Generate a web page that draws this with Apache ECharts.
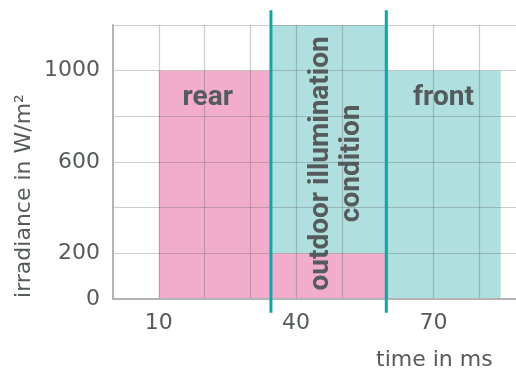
<!DOCTYPE html>
<html>
<head>
<meta charset="utf-8">
<script src="https://cdn.jsdelivr.net/npm/echarts@6/dist/echarts.min.js"></script>
<style>html,body{margin:0;padding:0;background:#fff}#c{width:516px;height:376px}</style>
</head>
<body>
<div id="c"></div>
<script>
// Regions (time in ms, irradiance in W/m²)
var regionKind = ['rear', 'rear', 'outdoor', 'front'];
var regionX0 = [10, 34.5, 34.5, 59.7];
var regionX1 = [34.5, 59.7, 59.7, 84.7];
var regionY0 = [0, 0, 200, 0];
var regionY1 = [1000, 200, 1200, 1000];
// Boundary lines
var boundaryX = [34.5, 59.7];
var boundaryY0 = [-60, -60];
var boundaryY1 = [1265, 1265];
// Region labels
var labelText = ['rear', 'front', 'outdoor illumination\ncondition'];
var labelX = [20.7, 72.2, 48.8];
var labelY = [880, 880, 594];
var labelVertical = [false, false, true];
// Ticks
var xTickLabels = [10, 40, 70];
var yTickLabels = [0, 200, 600, 1000];

var colors = { rear: '#F2ADCD', outdoor: '#B0DFDF', front: '#B0DFDF' };
var textColor = '#555a5c';
var font = '"DejaVu Sans", Roboto, sans-serif';
var boldFont = 'Roboto, "Liberation Sans", sans-serif';

var rectData = regionKind.map(function (k, i) { return [regionX0[i], regionX1[i], regionY0[i], regionY1[i], i]; });
var lineData = boundaryX.map(function (x, i) { return [x, boundaryY0[i], boundaryY1[i]]; });
var textData = labelText.map(function (t, i) { return [labelX[i], labelY[i], i]; });

var chart = echarts.init(document.getElementById('c'), null, { renderer: 'canvas' });
chart.setOption({
  animation: false,
  grid: { left: 113, top: 25, width: 412, height: 274, containLabel: false, outerBoundsMode: 'none' },
  xAxis: {
    type: 'value', min: 0, max: 90, interval: 10, z: 5,
    axisLine: { show: true, lineStyle: { color: '#b4b4b4', width: 2 } },
    axisTick: { show: false },
    splitLine: { show: true, lineStyle: { color: 'rgba(90,90,90,0.3)', width: 1.2 } },
    axisLabel: {
      margin: 13, color: textColor, fontFamily: font, fontSize: 22,
      formatter: function (v) { return xTickLabels.indexOf(v) >= 0 ? String(v) : ''; }
    }
  },
  yAxis: {
    type: 'value', min: 0, max: 1200, interval: 200, z: 5,
    axisLine: { show: true, lineStyle: { color: '#b4b4b4', width: 2 } },
    axisTick: { show: false },
    splitLine: { show: true, lineStyle: { color: 'rgba(90,90,90,0.3)', width: 1.2 } },
    axisLabel: {
      margin: 13, color: textColor, fontFamily: font, fontSize: 22,
      formatter: function (v) { return yTickLabels.indexOf(v) >= 0 ? String(v) : ''; }
    }
  },
  graphic: [
    { type: 'text', left: 376, top: 349, style: { text: 'time in ms', fill: textColor, font: '22px ' + font } },
    { type: 'text', x: 13, y: 196, rotation: Math.PI / 2, style: { text: 'irradiance in W/m²', fill: textColor, font: '22px ' + font, align: 'center', verticalAlign: 'top' } }
  ],
  series: [
    {
      type: 'custom', z: 2, clip: false,
      data: rectData,
      renderItem: function (params, api) {
        var p0 = api.coord([api.value(0), api.value(3)]);
        var p1 = api.coord([api.value(1), api.value(2)]);
        var k = regionKind[api.value(4)];
        return { type: 'rect', shape: { x: p0[0], y: p0[1], width: p1[0] - p0[0], height: p1[1] - p0[1] }, style: { fill: colors[k] } };
      }
    },
    {
      type: 'custom', z: 8, clip: false,
      data: textData,
      renderItem: function (params, api) {
        var p = api.coord([api.value(0), api.value(1)]);
        var i = api.value(2);
        return {
          type: 'text', x: p[0], y: p[1], rotation: labelVertical[i] ? Math.PI / 2 : 0,
          style: { text: labelText[i], fill: textColor, font: 'bold 28px ' + boldFont, align: 'center', verticalAlign: 'middle', lineHeight: 31 }
        };
      }
    },
    {
      type: 'custom', z: 10, clip: false,
      data: lineData,
      renderItem: function (params, api) {
        var a = api.coord([api.value(0), api.value(1)]);
        var b = api.coord([api.value(0), api.value(2)]);
        return { type: 'line', shape: { x1: a[0], y1: a[1], x2: b[0], y2: b[1] }, style: { stroke: '#0AA9A5', lineWidth: 3 } };
      }
    }
  ]
});
</script>
</body>
</html>
